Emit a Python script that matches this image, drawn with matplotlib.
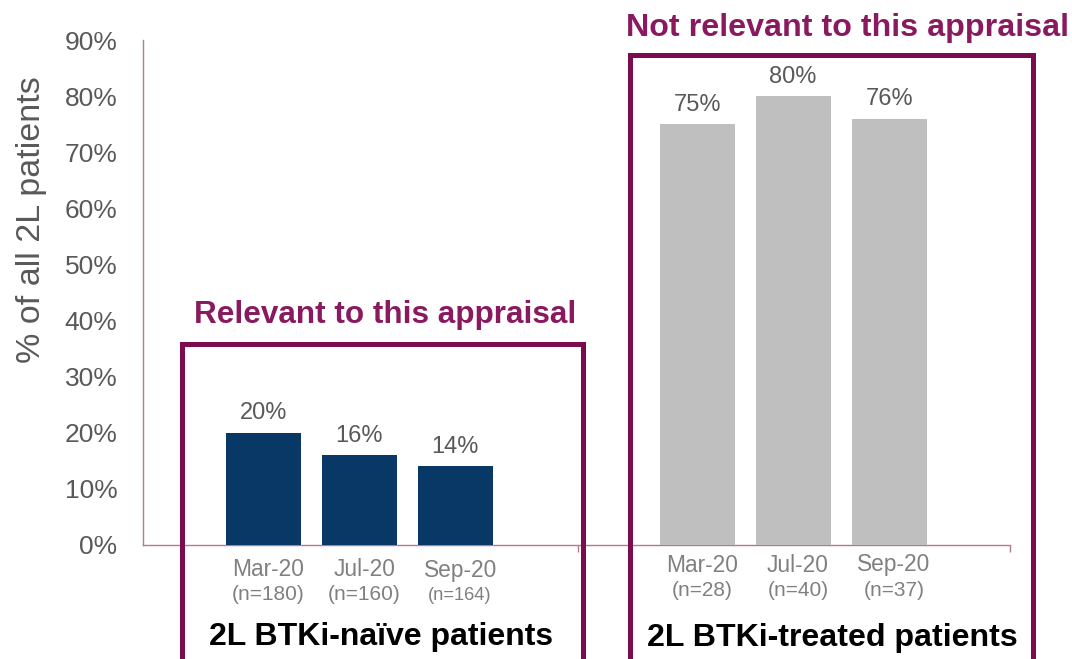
import matplotlib
matplotlib.use("Agg")
import matplotlib.pyplot as plt
from matplotlib.patches import Rectangle
from matplotlib.transforms import blended_transform_factory

plt.rcParams['font.family'] = ['Liberation Sans', 'DejaVu Sans']

# Data
naive_months = ["Mar-20", "Jul-20", "Sep-20"]
naive_n = ["(n=180)", "(n=160)", "(n=164)"]
naive_vals = [0.20, 0.16, 0.14]
naive_labels = ["20%", "16%", "14%"]

treated_months = ["Mar-20", "Jul-20", "Sep-20"]
treated_n = ["(n=28)", "(n=40)", "(n=37)"]
treated_vals = [0.75, 0.80, 0.76]
treated_labels = ["75%", "80%", "76%"]

yticks = [0, 0.1, 0.2, 0.3, 0.4, 0.5, 0.6, 0.7, 0.8, 0.9]
ytick_labels = ["0%", "10%", "20%", "30%", "40%", "50%", "60%", "70%", "80%", "90%"]

# Layout
W, H = 1072, 659
naive_x = [0, 1, 2]
treated_x = [4.52, 5.52, 6.52]
bar_w = 0.78

NAVY = "#0A3866"
GRAY = "#BFBFBF"
BOX = "#7B0C4F"
TITLE = "#8A1A60"
AXC = "#B27A98"
TXT = "#595959"
CAT = "#808080"

fig = plt.figure(figsize=(W / 100, H / 100), dpi=100)
ax = fig.add_axes([143 / W, 1 - 545 / H, (1010 - 143) / W, (545 - 40) / H])

ax.bar(naive_x, naive_vals, width=bar_w, color=NAVY, zorder=3)
ax.bar(treated_x, treated_vals, width=bar_w, color=GRAY, zorder=3)

for x, v, lab in zip(naive_x + treated_x, naive_vals + treated_vals, naive_labels + treated_labels):
    ax.annotate(lab, (x, v), xytext=(0, 6), textcoords="offset points",
                ha="center", va="bottom", fontsize=17, color=TXT)

ax.set_xlim(-1.255, 7.78)
ax.set_ylim(0, 0.9)
ax.set_yticks(yticks)
ax.set_yticklabels(ytick_labels, fontsize=19, color=TXT)
ax.tick_params(axis="y", length=0, pad=18.5)
ax.set_xticks([])
ax.set_xticks([3.28, 7.78], minor=True)
ax.tick_params(axis="x", which="minor", length=5, color=AXC, width=1)

for s in ["top", "right"]:
    ax.spines[s].set_visible(False)
ax.spines["left"].set_color(AXC)
ax.spines["bottom"].set_color(AXC)
ax.spines["left"].set_linewidth(1)
ax.spines["bottom"].set_linewidth(1)

ax.set_ylabel("% of all 2L patients", fontsize=24.5, color=TXT)
ax.yaxis.label.set_verticalalignment("center")
ax.yaxis.set_label_coords((32 - 143) / 867, (545 - 220) / 505)

trans = blended_transform_factory(ax.transData, fig.transFigure)
for x, m, n in zip(naive_x, naive_months, naive_n):
    ax.text(x + 0.05, 1 - 570 / H, m, transform=trans, ha="center", va="center", fontsize=16.4, color=CAT)
    fs = 13.2 if n == "(n=164)" else 15
    ax.text(x + 0.05, 1 - 595 / H, n, transform=trans, ha="center", va="center", fontsize=fs, color=CAT)
for x, m, n in zip(treated_x, treated_months, treated_n):
    ax.text(x + 0.05, 1 - 565 / H, m, transform=trans, ha="center", va="center", fontsize=16.4, color=CAT)
    ax.text(x + 0.05, 1 - 590 / H, n, transform=trans, ha="center", va="center", fontsize=15, color=CAT)

# Boxes (figure pixel coords)
def box(x0, y0, x1, y1):
    r = Rectangle((x0 / W, 1 - y1 / H), (x1 - x0) / W, (y1 - y0) / H,
                  transform=fig.transFigure, fill=False, edgecolor=BOX,
                  linewidth=3.6, clip_on=False, zorder=5)
    fig.patches.append(r)

box(182, 344, 583, 700)
box(630, 55, 1033, 700)

fig.text(385 / W, 1 - 315 / H, "Relevant to this appraisal", ha="center", va="center",
         fontsize=22.7, fontweight="bold", color=TITLE)
fig.text(848 / W, 1 - 28 / H, "Not relevant to this appraisal", ha="center", va="center",
         fontsize=23.2, fontweight="bold", color=TITLE)
fig.text(381 / W, 1 - 637 / H, "2L BTKi-naïve patients", ha="center", va="center",
         fontsize=23, fontweight="bold", color="black")
fig.text(832 / W, 1 - 638 / H, "2L BTKi-treated patients", ha="center", va="center",
         fontsize=23.1, fontweight="bold", color="black")

fig.savefig("out.png", dpi=100)
